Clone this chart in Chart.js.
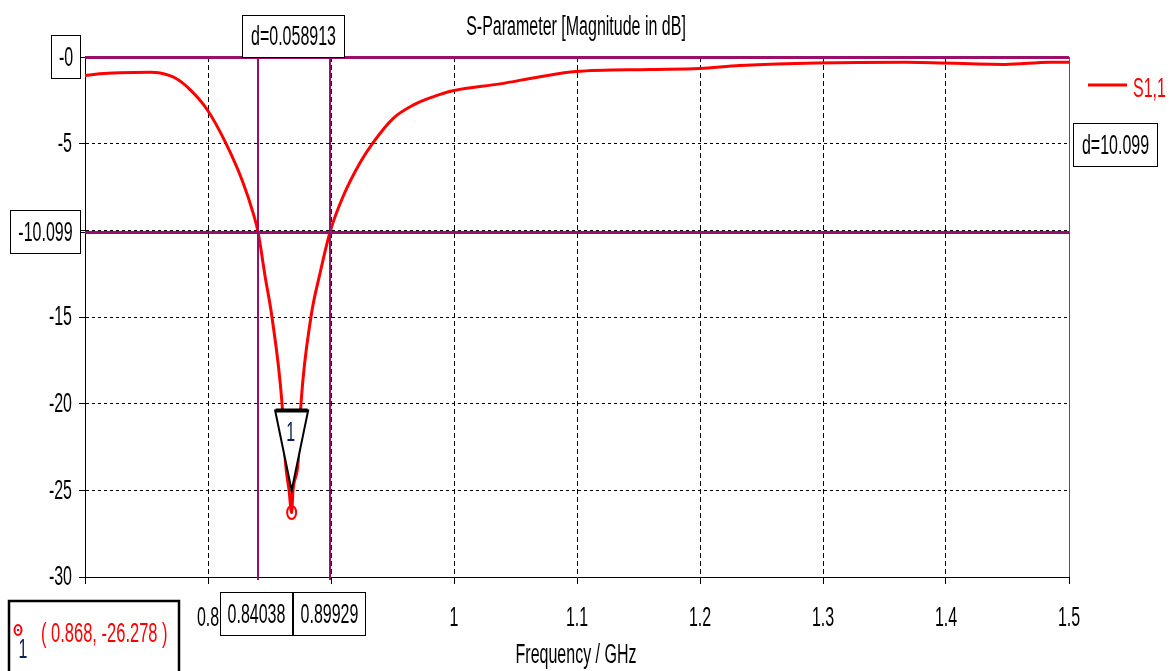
<!DOCTYPE html>
<html>
<head>
<meta charset="utf-8">
<script src="https://cdn.jsdelivr.net/npm/chart.js@4.4.1/dist/chart.umd.min.js"></script>
<style>
  body { margin: 0; background: #fff; }
  #wrap { width: 1175px; height: 671px; }
</style>
</head>
<body>
<div id="wrap"><canvas id="sChart" width="1175" height="671"></canvas></div>
<script>
// S1,1 magnitude (dB)
var freq = [0.700, 0.712, 0.728, 0.753, 0.761, 0.773, 0.785, 0.799, 0.814, 0.8285,
            0.8366, 0.8407, 0.8463, 0.852, 0.8602, 0.863, 0.8659, 0.868, 0.8691, 0.8732,
            0.8756, 0.8837, 0.891, 0.8992, 0.9098, 0.9236, 0.9341, 0.9504, 0.9667, 0.9829,
            0.9992, 1.0374, 1.0699, 1.0992, 1.1593, 1.2, 1.2325, 1.3667, 1.448, 1.4846,
            1.5];
var s11 = [-1.07, -0.97, -0.91, -0.88, -0.92, -1.2, -1.85, -3.0, -4.9, -7.25,
           -8.98, -10.1, -12.6, -15.0, -20.0, -23.4, -25.0, -26.278, -25.0, -23.4,
           -20.0, -15.0, -12.5, -10.1, -8.05, -6.1, -4.95, -3.55, -2.78, -2.3,
           -1.95, -1.55, -1.14, -0.84, -0.72, -0.66, -0.49, -0.3, -0.43, -0.3,
           -0.3];

var xTicks = [0.7, 0.8, 0.9, 1.0, 1.1, 1.2, 1.3, 1.4, 1.5];
var yTicks = [0, -5, -10, -15, -20, -25, -30];

// marker lines and the min marker
var markerX = [0.84038, 0.89929];
var markerY = [0, -10.099];
var markerYLabels = ["-0", "-10.099"];
var deltaLabels = ["d=0.058913", "d=10.099"];
var minPoint = [0.868, -26.278];

var purple = "#990f6c";
var FONT = '"Liberation Sans", Arial, sans-serif';
var SY = 1.7; // the original text is tall and narrow

function sText(ctx, text, x, y, align, color, size) {
  ctx.save();
  ctx.translate(x, y);
  ctx.scale(1, SY);
  ctx.font = (size || 16) + "px " + FONT;
  ctx.textAlign = align || "center";
  ctx.textBaseline = "middle";
  ctx.fillStyle = color || "#000";
  ctx.fillText(text, 0, 0.5);
  ctx.restore();
}

function boxText(ctx, x, y, w, h, text) {
  ctx.fillStyle = "#fff";
  ctx.fillRect(x, y, w, h);
  ctx.strokeStyle = "#000";
  ctx.lineWidth = 1;
  ctx.strokeRect(x + 0.5, y + 0.5, w, h);
  sText(ctx, text, x + w / 2 + 0.5, y + h / 2 + 1);
}

var markerPlugin = {
  id: "markers",
  afterDraw(chart) {
    var ctx = chart.ctx;
    var area = chart.chartArea;
    var xs = chart.scales.x;
    var ys = chart.scales.y;
    ctx.save();

    // right border
    ctx.strokeStyle = "#555";
    ctx.lineWidth = 1;
    ctx.beginPath();
    ctx.moveTo(area.right + 0.5, area.top);
    ctx.lineTo(area.right + 0.5, area.bottom);
    ctx.stroke();

    // tick labels
    ys.ticks.forEach(function (t) {
      if (t.value == 0 || t.value == -10) return;
      sText(ctx, String(t.value), area.left - 13, ys.getPixelForValue(t.value), "right");
    });
    xs.ticks.forEach(function (t) {
      var r = Math.round(t.value * 10) / 10;
      if (r == 0.7 || r == 0.9) return;
      sText(ctx, String(r), xs.getPixelForValue(t.value), area.bottom + 41, "center");
    });

    // purple marker lines
    ctx.strokeStyle = purple;
    ctx.lineWidth = 3;
    markerY.forEach(function (v) {
      var py = Math.round(ys.getPixelForValue(v)) + 0.5;
      ctx.beginPath();
      ctx.moveTo(area.left, py);
      ctx.lineTo(area.right, py);
      ctx.stroke();
    });
    ctx.lineWidth = 2;
    markerX.forEach(function (v) {
      var px = Math.round(xs.getPixelForValue(v));
      ctx.beginPath();
      ctx.moveTo(px, area.top);
      ctx.lineTo(px, area.bottom + 3);
      ctx.stroke();
    });

    // triangle marker above the minimum
    var mx = xs.getPixelForValue(minPoint[0]);
    var my = ys.getPixelForValue(minPoint[1]);
    ctx.fillStyle = "#fff";
    ctx.strokeStyle = "#000";
    ctx.lineWidth = 2;
    ctx.beginPath();
    ctx.moveTo(mx - 16.5, my - 102);
    ctx.lineTo(mx + 16.5, my - 102);
    ctx.lineTo(mx, my - 22);
    ctx.closePath();
    ctx.fill();
    ctx.stroke();
    ctx.lineWidth = 4;
    ctx.beginPath();
    ctx.moveTo(mx - 16, my - 102);
    ctx.lineTo(mx + 16, my - 102);
    ctx.stroke();
    sText(ctx, "1", mx - 1, my - 80, "center", "#0b1e5c");

    // red circle at the minimum
    ctx.strokeStyle = "#ff0000";
    ctx.lineWidth = 2;
    ctx.beginPath();
    ctx.ellipse(mx, my, 4.5, 6.5, 0, 0, Math.PI * 2);
    ctx.stroke();
    ctx.fillStyle = "#ff0000";
    ctx.fillRect(mx - 1, my - 1, 2, 2);

    // boxes on the y axis
    markerY.forEach(function (v, i) {
      var py = Math.round(ys.getPixelForValue(v));
      var w = i == 0 ? 29 : 70;
      ctx.strokeStyle = "#000";
      ctx.lineWidth = 1;
      ctx.beginPath();
      ctx.moveTo(area.left - 5, py + 0.5);
      ctx.lineTo(area.left, py + 0.5);
      ctx.stroke();
      boxText(ctx, area.left - 5 - w, py - 22, w, 43, markerYLabels[i]);
    });

    // boxes on the x axis
    markerX.forEach(function (v) {
      var px = xs.getPixelForValue(v);
      boxText(ctx, Math.round(px - 1.5 - 36), area.bottom + 15, 72, 43, String(v));
    });

    // delta boxes
    var x0 = xs.getPixelForValue(markerX[0]);
    var x1 = xs.getPixelForValue(markerX[1]);
    boxText(ctx, Math.round((x0 + x1) / 2) - 52, area.top - 42, 102, 42, deltaLabels[0]);
    var y0 = ys.getPixelForValue(markerY[0]);
    var y1 = ys.getPixelForValue(markerY[1]);
    boxText(ctx, area.right + 4, Math.round((y0 + y1) / 2) - 22, 84, 43, deltaLabels[1]);

    // title and axis title
    sText(ctx, "S-Parameter [Magnitude in dB]", 576, 27, "center");
    sText(ctx, "Frequency / GHz", 576, 655, "center");

    // legend
    ctx.strokeStyle = "#ff0000";
    ctx.lineWidth = 3;
    ctx.beginPath();
    ctx.moveTo(area.right + 19, 85);
    ctx.lineTo(area.right + 58, 85);
    ctx.stroke();
    sText(ctx, "S1,1", area.right + 64, 89, "left", "#ff0000");

    // marker readout box, bottom left
    ctx.fillStyle = "#fff";
    ctx.fillRect(9, 601, 170, 80);
    ctx.strokeStyle = "#000";
    ctx.lineWidth = 2.5;
    ctx.strokeRect(9, 601, 170, 80);
    ctx.strokeStyle = "#ff0000";
    ctx.lineWidth = 2;
    ctx.beginPath();
    ctx.ellipse(18, 630, 3.5, 5, 0, 0, Math.PI * 2);
    ctx.stroke();
    ctx.fillStyle = "#ff0000";
    ctx.fillRect(17, 629, 2, 2);
    sText(ctx, "1", 23, 650, "center", "#0b1e5c");
    sText(ctx, "( " + minPoint[0] + ", " + minPoint[1] + " )", 41, 633, "left", "#ff0000", 16.5);

    ctx.restore();
  }
};

new Chart("sChart", {
  type: "line",
  data: {
    datasets: [
      {
        label: "S1,1",
        data: freq.map(function (f, i) { return { x: f, y: s11[i] }; }),
        borderColor: "#ff0000",
        borderWidth: 3,
        pointRadius: 0,
        cubicInterpolationMode: "monotone",
        fill: false
      }
    ]
  },
  options: {
    responsive: false,
    animation: false,
    layout: { padding: { top: 57, right: 106, left: 0, bottom: 0 } },
    plugins: {
      legend: { display: false },
      title: { display: false },
      tooltip: { enabled: false }
    },
    scales: {
      x: {
        type: "linear",
        min: 0.7,
        max: 1.5,
        afterFit: function (scale) { scale.height = 94; },
        afterBuildTicks: function (scale) {
          scale.ticks = xTicks.map(function (v) { return { value: v }; });
        },
        ticks: { color: "rgba(0,0,0,0)", maxRotation: 0 },
        grid: { color: "#000", lineWidth: 1, tickLength: 7, tickColor: "#000" },
        border: { color: "#000", width: 1, dash: [5, 3] }
      },
      y: {
        min: -30,
        max: 0,
        afterFit: function (scale) { scale.width = 85; },
        afterBuildTicks: function (scale) {
          scale.ticks = yTicks.map(function (v) { return { value: v }; });
        },
        ticks: { color: "rgba(0,0,0,0)" },
        grid: { color: "#000", lineWidth: 1, tickLength: 6, tickColor: "#000" },
        border: { color: "#000", width: 1, dash: [3, 3] }
      }
    }
  },
  plugins: [markerPlugin]
});
</script>
</body>
</html>
